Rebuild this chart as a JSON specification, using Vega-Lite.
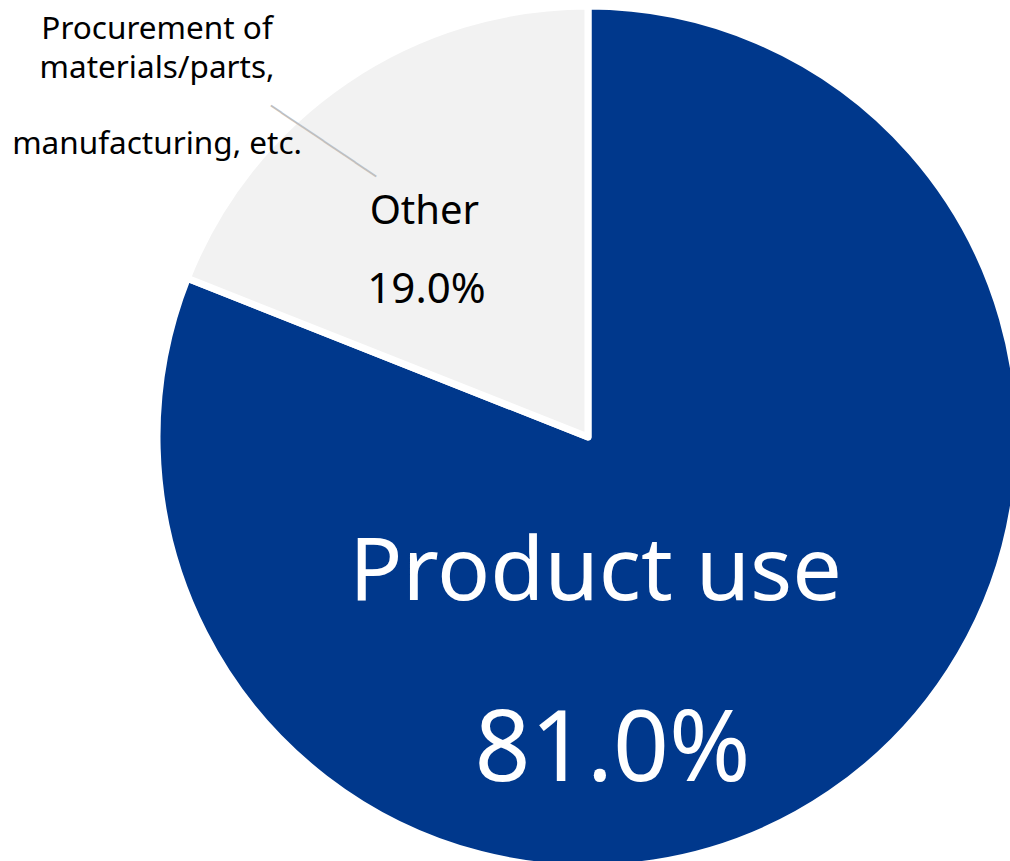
{
  "$schema": "https://vega.github.io/schema/vega-lite/v6.json",
  "autosize": "none",
  "padding": 0,
  "width": 1176,
  "height": 874,
  "background": "white",
  "view": {"stroke": null},
  "data": {"values": [
    {"category": "Product use", "share": 81.0},
    {"category": "Other", "share": 19.0}
  ]},
  "encoding": {
    "theta": {"field": "share", "type": "quantitative", "stack": true},
    "order": {"field": "category", "sort": "descending"}
  },
  "layer": [
    {
      "mark": {"type": "arc", "outerRadius": 431, "stroke": "white", "strokeWidth": 7, "strokeJoin": "round"},
      "encoding": {
        "color": {"field": "category", "type": "nominal", "legend": null,
          "scale": {"domain": ["Product use", "Other"], "range": ["#00388C", "#F2F2F2"]}}
      }
    },
    {
      "mark": {"type": "text", "radius": 138, "dx": -70, "dy": 49, "align": "center", "baseline": "alphabetic", "font": "Noto Sans", "fontSize": 88, "color": "white"},
      "encoding": {"text": {"condition": {"test": "datum.category === 'Product use'", "value": "Product use"}, "value": ""}}
    },
    {
      "mark": {"type": "text", "radius": 298, "dx": -143, "dy": 98, "align": "center", "baseline": "alphabetic", "font": "Noto Sans", "fontSize": 98, "color": "white"},
      "encoding": {"text": {"condition": {"test": "datum.category === 'Product use'", "value": "81.0%"}, "value": ""}}
    },
    {
      "mark": {"type": "text", "radius": 268, "dx": -13, "dy": 9, "align": "center", "baseline": "alphabetic", "font": "Noto Sans", "fontSize": 40, "color": "black"},
      "encoding": {"text": {"condition": {"test": "datum.category === 'Other'", "value": "Other"}, "value": ""}}
    },
    {
      "mark": {"type": "text", "radius": 202, "dx": -48, "dy": 33, "align": "center", "baseline": "alphabetic", "font": "Noto Sans", "fontSize": 42, "color": "black"},
      "encoding": {"text": {"condition": {"test": "datum.category === 'Other'", "value": "19.0%"}, "value": ""}}
    },
    {
      "mark": {"type": "text", "radius": 571, "dx": -110, "dy": 74, "align": "center", "baseline": "alphabetic", "font": "Noto Sans", "fontSize": 31.5, "lineHeight": 39, "lineBreak": "\n", "color": "black"},
      "encoding": {"text": {"condition": {"test": "datum.category === 'Other'", "value": "Procurement of\nmaterials/parts,"}, "value": ""}}
    },
    {
      "mark": {"type": "text", "radius": 571, "dx": -110, "dy": 189, "align": "center", "baseline": "alphabetic", "font": "Noto Sans", "fontSize": 31.5, "color": "black"},
      "encoding": {"text": {"condition": {"test": "datum.category === 'Other'", "value": "manufacturing, etc."}, "value": ""}}
    },
    {
      "mark": {"type": "text", "radius": 394, "dx": -19, "dy": 50, "angle": 34, "align": "center", "baseline": "middle", "font": "DejaVu Sans Mono", "fontSize": 21, "color": "#BFBFBF"},
      "encoding": {"text": {"condition": {"test": "datum.category === 'Other'", "value": "──────────"}, "value": ""}}
    }
  ]
}
